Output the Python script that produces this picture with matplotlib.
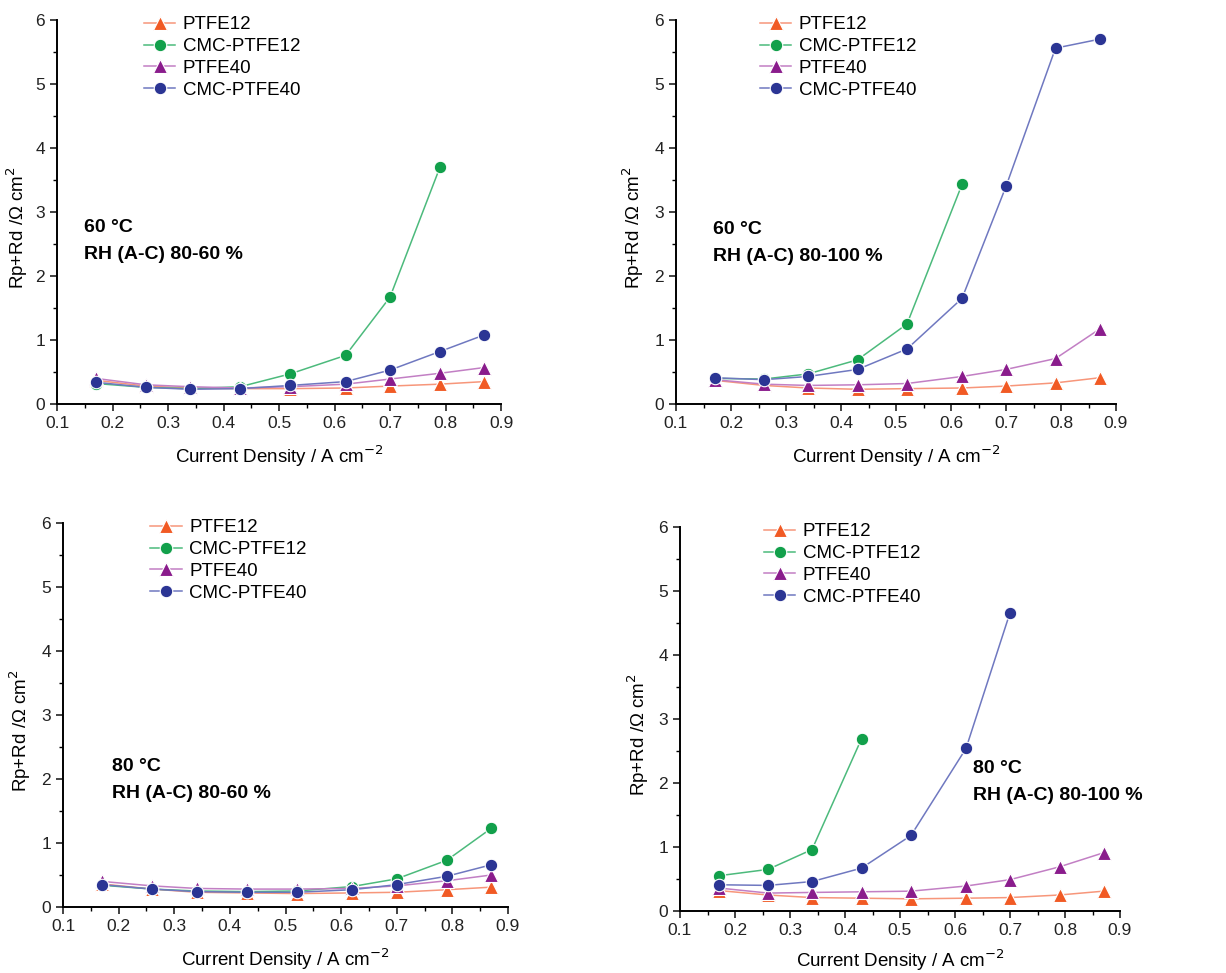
import numpy as np
import matplotlib
matplotlib.use("Agg")
import matplotlib.pyplot as plt
from matplotlib.ticker import MultipleLocator

plt.rcParams['font.family'] = ['Liberation Sans', 'DejaVu Sans']

# current density, A cm-2
current = [0.17, 0.26, 0.34, 0.43, 0.52, 0.62, 0.70, 0.79, 0.87]

series_names = ["PTFE12", "CMC-PTFE12", "PTFE40", "CMC-PTFE40"]

# 60 C, RH 80-60 %
p1_ptfe12 = [0.37, 0.28, 0.25, 0.24, 0.24, 0.25, 0.28, 0.31, 0.35]
p1_cmc12 = [0.32, 0.26, 0.24, 0.27, 0.47, 0.76, 1.67, 3.70]
p1_ptfe40 = [0.40, 0.30, 0.27, 0.25, 0.27, 0.31, 0.39, 0.48, 0.57]
p1_cmc40 = [0.34, 0.26, 0.23, 0.24, 0.29, 0.35, 0.53, 0.82, 1.08]

# 60 C, RH 80-100 %
p2_ptfe12 = [0.37, 0.29, 0.25, 0.23, 0.24, 0.25, 0.28, 0.33, 0.41]
p2_cmc12 = [0.40, 0.39, 0.47, 0.69, 1.25, 3.43]
p2_ptfe40 = [0.38, 0.31, 0.29, 0.30, 0.32, 0.43, 0.54, 0.71, 1.17]
p2_cmc40 = [0.41, 0.38, 0.43, 0.54, 0.86, 1.65, 3.40, 5.56, 5.70]

# 80 C, RH 80-60 %
p3_ptfe12 = [0.36, 0.28, 0.23, 0.22, 0.21, 0.22, 0.23, 0.27, 0.31]
p3_cmc12 = [0.34, 0.28, 0.25, 0.24, 0.25, 0.32, 0.44, 0.73, 1.23]
p3_ptfe40 = [0.40, 0.33, 0.29, 0.28, 0.28, 0.29, 0.33, 0.41, 0.50]
p3_cmc40 = [0.35, 0.28, 0.24, 0.23, 0.23, 0.27, 0.35, 0.48, 0.66]

# 80 C, RH 80-100 %
p4_ptfe12 = [0.32, 0.25, 0.21, 0.20, 0.19, 0.20, 0.21, 0.25, 0.31]
p4_cmc12 = [0.55, 0.65, 0.96, 2.69]
p4_ptfe40 = [0.36, 0.28, 0.29, 0.30, 0.31, 0.39, 0.49, 0.69, 0.91]
p4_cmc40 = [0.41, 0.40, 0.46, 0.67, 1.18, 2.54, 4.66]

panel_labels = [("60 °C", "RH (A-C) 80-60 %"),
                ("60 °C", "RH (A-C) 80-100 %"),
                ("80 °C", "RH (A-C) 80-60 %"),
                ("80 °C", "RH (A-C) 80-100 %")]

# marker colour, line colour, marker, marker size
styles = [("#f15a24", "#f7967a", "^", 10.5),
          ("#12a04b", "#4cba7c", "o", 9),
          ("#8a1c8c", "#c27fc4", "^", 10.5),
          ("#2b3594", "#6f78c0", "o", 9)]

W, H = 1226, 973
# axes boxes in pixels: left, top, right, bottom
boxes = [(57, 20, 501, 404), (676, 20, 1116, 404),
         (63, 523, 508, 907), (680, 527, 1120, 911)]
legend_pos = [(0.195, 1.01), (0.19, 1.01), (0.195, 1.01), (0.19, 1.01)]
text_pos = [(0.06, 0.46, 0.39), (0.084, 0.455, 0.385),
            (0.11, 0.365, 0.295), (0.666, 0.372, 0.30)]
ylabel_x = [-0.06, -0.068, -0.068, -0.066]
xlabel_pad = [9, 9, 9, 7]

data = [[p1_ptfe12, p1_cmc12, p1_ptfe40, p1_cmc40],
        [p2_ptfe12, p2_cmc12, p2_ptfe40, p2_cmc40],
        [p3_ptfe12, p3_cmc12, p3_ptfe40, p3_cmc40],
        [p4_ptfe12, p4_cmc12, p4_ptfe40, p4_cmc40]]

fig = plt.figure(figsize=(W / 100, H / 100), dpi=100)

for i in range(4):
    l, t, r, b = boxes[i]
    ax = fig.add_axes([l / W, 1 - b / H, (r - l) / W, (b - t) / H])
    for name, vals, (mc, lc, mk, ms) in zip(series_names, data[i], styles):
        ax.plot(current[:len(vals)], vals, color=lc, lw=1.1, marker=mk,
                markersize=ms, markerfacecolor=mc, markeredgecolor="white",
                markeredgewidth=0.8, label=name)
    ax.set_xlim(0.1, 0.9)
    ax.set_ylim(0, 6)
    ax.xaxis.set_major_locator(MultipleLocator(0.1))
    ax.xaxis.set_minor_locator(MultipleLocator(0.05))
    ax.yaxis.set_major_locator(MultipleLocator(1))
    ax.yaxis.set_minor_locator(MultipleLocator(0.5))
    ax.xaxis.set_major_formatter(matplotlib.ticker.FormatStrFormatter('%.1f'))
    ax.tick_params(which='major', direction='out', length=5, width=1.2, labelsize=12.5, colors='#222222')
    ax.tick_params(which='minor', direction='out', length=3, width=1.0)
    for s in ['top', 'right']:
        ax.spines[s].set_visible(False)
    for s in ['left', 'bottom']:
        ax.spines[s].set_linewidth(1.4)
    ax.set_xlabel("Current Density / A cm$^{-2}$", fontsize=13.5, labelpad=xlabel_pad[i])
    ax.set_ylabel("Rp+Rd /\u03a9 cm$^{2}$", fontsize=13.5)
    ax.yaxis.set_label_coords(ylabel_x[i], 0.46)
    ax.legend(loc='upper left', bbox_to_anchor=legend_pos[i], frameon=False,
              fontsize=13.5, handlelength=1.7, labelspacing=0.25, handletextpad=0.4,
              borderaxespad=0, borderpad=0)
    tx, ty1, ty2 = text_pos[i]
    ax.text(tx, ty1, panel_labels[i][0], transform=ax.transAxes, fontsize=14,
            fontweight='bold', va='center', ha='left', clip_on=False)
    ax.text(tx, ty2, panel_labels[i][1], transform=ax.transAxes, fontsize=14,
            fontweight='bold', va='center', ha='left', clip_on=False)

fig.savefig("out.png", dpi=100)
